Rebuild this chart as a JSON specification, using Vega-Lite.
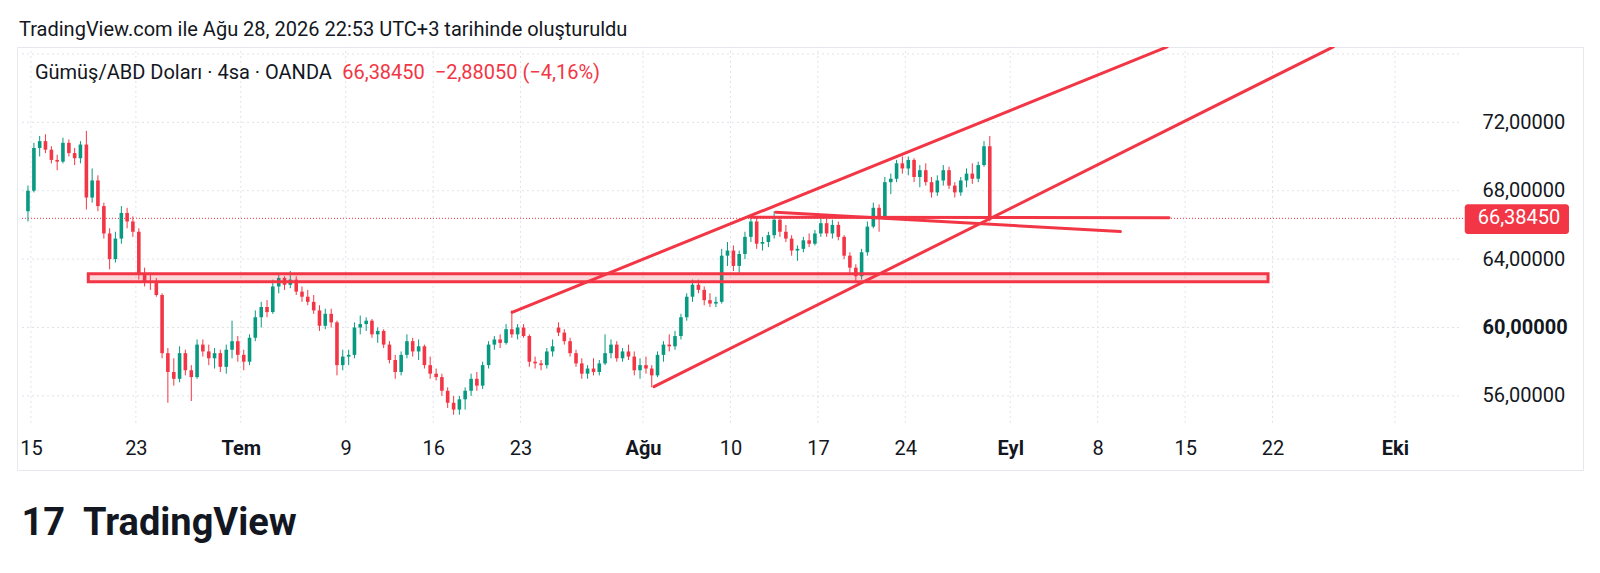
{
  "$schema": "https://vega.github.io/schema/vega-lite/v6.json",
  "autosize": {"type": "none"},
  "width": 1566,
  "height": 423,
  "padding": {"left": 17, "top": 47, "right": 17, "bottom": 103},
  "background": "#ffffff",
  "title": {
    "text": "TradingView.com ile Ağu 28, 2026 22:53 UTC+3 tarihinde oluşturuldu",
    "anchor": "start", "frame": "group", "offset": 7, "dx": 2,
    "font": "Roboto", "fontSize": 20, "fontWeight": "normal", "color": "#131722"
  },
  "config": {"view": {"stroke": "#e6e8ee", "strokeWidth": 1}, "font": "Roboto"},
  "datasets": {
    "hgrid": [{"p": 56}, {"p": 60}, {"p": 64}, {"p": 68}, {"p": 72}, {"p": 76}],
    "vgrid": [{"d": 0}, {"d": 6}, {"d": 12}, {"d": 18}, {"d": 23}, {"d": 28}, {"d": 35}, {"d": 40}, {"d": 45}, {"d": 50}, {"d": 56}, {"d": 61}, {"d": 66}, {"d": 71}, {"d": 78}],
    "last": [{"p": 66.3845, "label": "66,38450"}],
    "zone": [{"d1": 3.28, "d2": 70.74, "p1": 62.68, "p2": 63.15}],
    "lines": [
      {"id": "a", "d": 27.51, "p": 60.89}, {"id": "a", "d": 64.97, "p": 76.41},
      {"id": "b", "d": 35.63, "p": 56.54}, {"id": "b", "d": 74.47, "p": 76.41},
      {"id": "c", "d": 41.14, "p": 66.45}, {"id": "c", "d": 65.08, "p": 66.42},
      {"id": "d", "d": 42.59, "p": 66.74}, {"id": "d", "d": 62.3, "p": 65.61}
    ],
    "bars": [
      {"d": -0.17, "o": 66.8, "h": 68.3, "l": 66.2, "c": 68.0},
      {"d": 0.17, "o": 68.0, "h": 70.8, "l": 67.9, "c": 70.5},
      {"d": 0.5, "o": 70.5, "h": 71.2, "l": 70.0, "c": 70.9},
      {"d": 0.83, "o": 70.9, "h": 71.3, "l": 70.2, "c": 70.4},
      {"d": 1.17, "o": 70.4, "h": 70.6, "l": 69.6, "c": 69.8},
      {"d": 1.5, "o": 69.8, "h": 70.1, "l": 69.2, "c": 69.7},
      {"d": 1.83, "o": 69.7, "h": 71.1, "l": 69.6, "c": 70.8},
      {"d": 2.17, "o": 70.8, "h": 71.0, "l": 70.0, "c": 70.2},
      {"d": 2.5, "o": 70.2, "h": 70.5, "l": 69.5, "c": 69.9},
      {"d": 2.83, "o": 69.9, "h": 70.9, "l": 69.6, "c": 70.7},
      {"d": 3.17, "o": 70.7, "h": 71.5, "l": 66.9, "c": 67.6},
      {"d": 3.5, "o": 67.6, "h": 69.3, "l": 67.3, "c": 68.6},
      {"d": 3.83, "o": 68.6, "h": 68.9, "l": 66.8, "c": 67.1},
      {"d": 4.17, "o": 67.1, "h": 67.3, "l": 65.2, "c": 65.5},
      {"d": 4.5, "o": 65.5, "h": 65.8, "l": 63.4, "c": 64.0},
      {"d": 4.83, "o": 64.0, "h": 65.6, "l": 63.8, "c": 65.2},
      {"d": 5.17, "o": 65.2, "h": 67.1, "l": 64.9, "c": 66.7},
      {"d": 5.5, "o": 66.7, "h": 67.0, "l": 65.8, "c": 66.2},
      {"d": 5.83, "o": 66.2, "h": 66.5, "l": 65.3, "c": 65.6},
      {"d": 6.17, "o": 65.6, "h": 65.8, "l": 62.8, "c": 63.1},
      {"d": 6.5, "o": 63.1, "h": 63.5, "l": 62.4, "c": 62.7},
      {"d": 6.83, "o": 62.7, "h": 63.2, "l": 62.2, "c": 62.6},
      {"d": 7.17, "o": 62.6, "h": 62.9, "l": 61.8, "c": 61.9},
      {"d": 7.5, "o": 61.9, "h": 62.0, "l": 58.2, "c": 58.5},
      {"d": 7.83, "o": 58.5, "h": 58.8, "l": 55.6, "c": 57.4},
      {"d": 8.17, "o": 57.4, "h": 58.2, "l": 56.6, "c": 57.0},
      {"d": 8.5, "o": 57.0, "h": 58.9, "l": 56.8, "c": 58.5},
      {"d": 8.83, "o": 58.5, "h": 58.7, "l": 57.2, "c": 57.5},
      {"d": 9.17, "o": 57.5, "h": 57.8, "l": 55.7, "c": 57.1},
      {"d": 9.5, "o": 57.1, "h": 59.3, "l": 57.0, "c": 59.0},
      {"d": 9.83, "o": 59.0, "h": 59.3, "l": 58.3, "c": 58.6},
      {"d": 10.17, "o": 58.6, "h": 59.0, "l": 57.8, "c": 58.2},
      {"d": 10.5, "o": 58.2, "h": 58.8, "l": 57.6, "c": 58.5},
      {"d": 10.83, "o": 58.5, "h": 58.7, "l": 57.4, "c": 57.7},
      {"d": 11.17, "o": 57.7, "h": 59.0, "l": 57.3, "c": 58.7},
      {"d": 11.5, "o": 58.7, "h": 60.4, "l": 58.2, "c": 59.2},
      {"d": 11.83, "o": 59.2, "h": 59.5, "l": 58.0, "c": 58.4},
      {"d": 12.17, "o": 58.4, "h": 58.7, "l": 57.5, "c": 58.0},
      {"d": 12.5, "o": 58.0, "h": 59.6, "l": 57.8, "c": 59.4},
      {"d": 12.83, "o": 59.4, "h": 61.0, "l": 59.2, "c": 60.6},
      {"d": 13.17, "o": 60.6, "h": 61.5, "l": 60.0, "c": 61.2},
      {"d": 13.5, "o": 61.2, "h": 61.6, "l": 60.6, "c": 60.9},
      {"d": 13.83, "o": 60.9, "h": 62.8, "l": 60.8, "c": 62.4},
      {"d": 14.17, "o": 62.4, "h": 63.1, "l": 62.0, "c": 62.9},
      {"d": 14.5, "o": 62.9, "h": 63.0, "l": 62.2, "c": 62.5},
      {"d": 14.83, "o": 62.5, "h": 63.3, "l": 62.3, "c": 62.8},
      {"d": 15.17, "o": 62.8, "h": 63.0, "l": 61.9, "c": 62.1},
      {"d": 15.5, "o": 62.1, "h": 62.4, "l": 61.5, "c": 61.8},
      {"d": 15.83, "o": 61.8, "h": 62.2, "l": 61.3, "c": 61.5},
      {"d": 16.17, "o": 61.5, "h": 61.9, "l": 60.8, "c": 61.0},
      {"d": 16.5, "o": 61.0, "h": 61.3, "l": 59.8, "c": 60.1},
      {"d": 16.83, "o": 60.1, "h": 61.1, "l": 59.9, "c": 60.8},
      {"d": 17.17, "o": 60.8, "h": 61.1, "l": 60.0, "c": 60.3},
      {"d": 17.5, "o": 60.3, "h": 60.4, "l": 57.2, "c": 57.8},
      {"d": 17.83, "o": 57.8, "h": 58.7, "l": 57.5, "c": 58.3},
      {"d": 18.17, "o": 58.3, "h": 58.7, "l": 57.8, "c": 58.4},
      {"d": 18.5, "o": 58.4, "h": 60.3, "l": 58.2, "c": 60.0},
      {"d": 18.83, "o": 60.0, "h": 60.7, "l": 59.6, "c": 60.2},
      {"d": 19.17, "o": 60.2, "h": 60.6, "l": 59.8, "c": 60.4},
      {"d": 19.5, "o": 60.4, "h": 60.5, "l": 59.4, "c": 59.6},
      {"d": 19.83, "o": 59.6, "h": 60.0, "l": 59.1, "c": 59.8},
      {"d": 20.17, "o": 59.8, "h": 59.9, "l": 58.8, "c": 59.0},
      {"d": 20.5, "o": 59.0, "h": 59.2, "l": 57.9, "c": 58.1},
      {"d": 20.83, "o": 58.1, "h": 58.4, "l": 57.0, "c": 57.4},
      {"d": 21.17, "o": 57.4, "h": 58.6, "l": 57.2, "c": 58.4},
      {"d": 21.5, "o": 58.4, "h": 59.6, "l": 58.2, "c": 59.2},
      {"d": 21.83, "o": 59.2, "h": 59.4, "l": 58.3, "c": 58.6},
      {"d": 22.17, "o": 58.6, "h": 59.3, "l": 58.1, "c": 58.9},
      {"d": 22.5, "o": 58.9, "h": 59.0, "l": 57.6, "c": 57.8},
      {"d": 22.83, "o": 57.8, "h": 58.3, "l": 57.0, "c": 57.3},
      {"d": 23.17, "o": 57.3, "h": 57.6, "l": 56.9, "c": 57.1},
      {"d": 23.5, "o": 57.1, "h": 57.3, "l": 56.0, "c": 56.3},
      {"d": 23.83, "o": 56.3, "h": 56.5, "l": 55.3, "c": 55.6},
      {"d": 24.17, "o": 55.6, "h": 56.0, "l": 54.9, "c": 55.2},
      {"d": 24.5, "o": 55.2, "h": 56.0, "l": 54.9, "c": 55.8},
      {"d": 24.83, "o": 55.8, "h": 56.5, "l": 55.2, "c": 56.3},
      {"d": 25.17, "o": 56.3, "h": 57.3, "l": 56.0, "c": 57.0},
      {"d": 25.5, "o": 57.0, "h": 57.4, "l": 56.3, "c": 56.6},
      {"d": 25.83, "o": 56.6, "h": 58.0, "l": 56.4, "c": 57.8},
      {"d": 26.17, "o": 57.8, "h": 59.2, "l": 57.6, "c": 59.0},
      {"d": 26.5, "o": 59.0, "h": 59.5, "l": 58.7, "c": 59.3},
      {"d": 26.83, "o": 59.3, "h": 59.6, "l": 58.8, "c": 59.1},
      {"d": 27.17, "o": 59.1, "h": 60.2, "l": 59.0, "c": 59.9},
      {"d": 27.5, "o": 59.9, "h": 61.0, "l": 59.4, "c": 59.6},
      {"d": 27.83, "o": 59.6, "h": 60.2, "l": 59.3, "c": 60.0},
      {"d": 28.17, "o": 60.0, "h": 60.2, "l": 59.4, "c": 59.5},
      {"d": 28.5, "o": 59.5, "h": 59.6, "l": 57.7, "c": 58.0},
      {"d": 28.83, "o": 58.0, "h": 58.3, "l": 57.6, "c": 57.9},
      {"d": 29.17, "o": 57.9, "h": 58.1, "l": 57.5, "c": 57.8},
      {"d": 29.5, "o": 57.8, "h": 58.8, "l": 57.6, "c": 58.6},
      {"d": 29.83, "o": 58.6, "h": 59.3, "l": 58.3, "c": 58.9},
      {"d": 30.17, "o": 60.0, "h": 60.3, "l": 59.5, "c": 59.7},
      {"d": 30.5, "o": 59.7, "h": 59.9, "l": 59.0, "c": 59.2},
      {"d": 30.83, "o": 59.2, "h": 59.4, "l": 58.3, "c": 58.5},
      {"d": 31.17, "o": 58.5, "h": 58.7, "l": 57.7, "c": 57.9},
      {"d": 31.5, "o": 57.9, "h": 58.2, "l": 57.0, "c": 57.3},
      {"d": 31.83, "o": 57.3, "h": 57.8, "l": 57.0, "c": 57.6},
      {"d": 32.17, "o": 57.6, "h": 58.2, "l": 57.2, "c": 57.4},
      {"d": 32.5, "o": 57.4, "h": 58.1, "l": 57.2, "c": 57.9},
      {"d": 32.83, "o": 57.9, "h": 59.6, "l": 57.8, "c": 58.5},
      {"d": 33.17, "o": 58.5, "h": 59.3, "l": 58.2, "c": 59.0},
      {"d": 33.5, "o": 59.0, "h": 59.2, "l": 58.0, "c": 58.2},
      {"d": 33.83, "o": 58.2, "h": 58.8, "l": 58.0, "c": 58.6},
      {"d": 34.17, "o": 58.6, "h": 59.0, "l": 58.1, "c": 58.3},
      {"d": 34.5, "o": 58.3, "h": 58.6, "l": 57.2, "c": 57.5},
      {"d": 34.83, "o": 57.5, "h": 58.2, "l": 57.0, "c": 57.8},
      {"d": 35.17, "o": 57.8, "h": 58.3, "l": 57.3, "c": 57.6},
      {"d": 35.5, "o": 57.6, "h": 57.8, "l": 56.5, "c": 57.2},
      {"d": 35.83, "o": 57.2, "h": 58.6, "l": 57.1, "c": 58.4},
      {"d": 36.17, "o": 58.4, "h": 59.2, "l": 58.0, "c": 59.0},
      {"d": 36.5, "o": 59.0, "h": 59.6, "l": 58.6, "c": 58.9},
      {"d": 36.83, "o": 58.9, "h": 59.8, "l": 58.7, "c": 59.5},
      {"d": 37.17, "o": 59.5, "h": 60.8, "l": 59.3, "c": 60.6},
      {"d": 37.5, "o": 60.6, "h": 62.0, "l": 60.4, "c": 61.8},
      {"d": 37.83, "o": 61.8, "h": 62.8, "l": 61.5, "c": 62.5},
      {"d": 38.17, "o": 62.5, "h": 62.8, "l": 62.0, "c": 62.2},
      {"d": 38.5, "o": 62.2, "h": 62.4, "l": 61.3, "c": 61.6},
      {"d": 38.83, "o": 61.6, "h": 62.0, "l": 61.2, "c": 61.4},
      {"d": 39.17, "o": 61.4, "h": 61.8, "l": 61.2, "c": 61.5},
      {"d": 39.5, "o": 61.5, "h": 64.6, "l": 61.4, "c": 64.2},
      {"d": 39.83, "o": 64.2, "h": 65.0, "l": 63.6, "c": 64.5},
      {"d": 40.17, "o": 64.5, "h": 64.8, "l": 63.3, "c": 63.6},
      {"d": 40.5, "o": 63.6, "h": 64.5, "l": 63.2, "c": 64.3},
      {"d": 40.83, "o": 64.3, "h": 65.6, "l": 64.0, "c": 65.3},
      {"d": 41.17, "o": 65.3, "h": 66.5, "l": 65.0, "c": 66.2},
      {"d": 41.5, "o": 66.2, "h": 66.4, "l": 64.6, "c": 64.9},
      {"d": 41.83, "o": 64.9, "h": 65.3, "l": 64.5, "c": 65.0},
      {"d": 42.17, "o": 65.0, "h": 65.6, "l": 64.7, "c": 65.4},
      {"d": 42.5, "o": 65.4, "h": 66.8, "l": 65.2, "c": 66.3},
      {"d": 42.83, "o": 66.3, "h": 66.5, "l": 65.3, "c": 65.6},
      {"d": 43.17, "o": 65.6, "h": 66.0, "l": 65.0, "c": 65.2},
      {"d": 43.5, "o": 65.2, "h": 65.4, "l": 64.2, "c": 64.5},
      {"d": 43.83, "o": 64.5, "h": 64.8, "l": 63.9, "c": 64.6},
      {"d": 44.17, "o": 64.6, "h": 65.3, "l": 64.4, "c": 65.1},
      {"d": 44.5, "o": 65.1, "h": 65.5, "l": 64.7, "c": 64.9},
      {"d": 44.83, "o": 64.9, "h": 65.7, "l": 64.8, "c": 65.5},
      {"d": 45.17, "o": 65.5, "h": 66.4, "l": 65.3, "c": 66.1},
      {"d": 45.5, "o": 66.1, "h": 66.4, "l": 65.3, "c": 65.5},
      {"d": 45.83, "o": 65.5, "h": 66.3, "l": 65.2, "c": 66.0},
      {"d": 46.17, "o": 66.0, "h": 66.2, "l": 65.1, "c": 65.3},
      {"d": 46.5, "o": 65.3, "h": 65.4, "l": 64.0, "c": 64.2},
      {"d": 46.83, "o": 64.2, "h": 64.4, "l": 63.2, "c": 63.5},
      {"d": 47.17, "o": 63.5, "h": 63.7, "l": 62.6, "c": 63.0},
      {"d": 47.5, "o": 63.0, "h": 64.6, "l": 62.8, "c": 64.4},
      {"d": 47.83, "o": 64.4, "h": 66.2, "l": 64.2, "c": 65.9},
      {"d": 48.17, "o": 65.9, "h": 67.3, "l": 65.8, "c": 67.0},
      {"d": 48.5, "o": 67.0, "h": 67.2, "l": 65.6, "c": 66.4},
      {"d": 48.83, "o": 66.4, "h": 68.8, "l": 66.3, "c": 68.5},
      {"d": 49.17, "o": 68.5, "h": 69.0, "l": 67.8, "c": 68.7},
      {"d": 49.5, "o": 68.7, "h": 69.8, "l": 68.5, "c": 69.6},
      {"d": 49.83, "o": 69.6, "h": 70.0, "l": 69.0, "c": 69.3},
      {"d": 50.17, "o": 69.3, "h": 70.0, "l": 68.9, "c": 69.8},
      {"d": 50.5, "o": 69.8, "h": 69.9, "l": 68.5, "c": 68.8},
      {"d": 50.83, "o": 68.8, "h": 69.5, "l": 68.2, "c": 69.2},
      {"d": 51.17, "o": 69.2, "h": 69.6, "l": 68.3, "c": 68.5},
      {"d": 51.5, "o": 68.5, "h": 68.8, "l": 67.6, "c": 67.9},
      {"d": 51.83, "o": 67.9, "h": 68.9, "l": 67.7, "c": 68.6},
      {"d": 52.17, "o": 68.6, "h": 69.5, "l": 68.3, "c": 69.2},
      {"d": 52.5, "o": 69.2, "h": 69.4, "l": 68.1, "c": 68.3},
      {"d": 52.83, "o": 68.3, "h": 68.5, "l": 67.6, "c": 67.9},
      {"d": 53.17, "o": 67.9, "h": 68.8, "l": 67.7, "c": 68.6},
      {"d": 53.5, "o": 68.6, "h": 69.3, "l": 68.2, "c": 69.0},
      {"d": 53.83, "o": 69.0, "h": 69.6, "l": 68.4, "c": 68.7},
      {"d": 54.17, "o": 68.7, "h": 69.7, "l": 68.5, "c": 69.5},
      {"d": 54.5, "o": 69.5, "h": 70.9, "l": 69.4, "c": 70.6},
      {"d": 54.83, "o": 70.6, "h": 71.2, "l": 66.2, "c": 66.3845}
    ]
  },
  "layer": [
    {
      "data": {"name": "hgrid"},
      "mark": {"type": "rule", "color": "#dfe2e8", "strokeWidth": 1, "strokeDash": [2, 3]},
      "encoding": {
        "y": {
          "field": "p", "type": "quantitative",
          "scale": {"domain": [51.667, 76.404], "nice": false, "zero": false},
          "axis": {
            "orient": "right", "values": [56, 60, 64, 68, 72], "offset": -101,
            "ticks": false, "domain": false, "grid": false, "labelPadding": 0,
            "labelAlign": "left", "labelBaseline": "middle", "labelFont": "Roboto",
            "labelFontSize": 20, "labelColor": "#131722", "labelFlush": false,
            "labelExpr": "replace(format(datum.value, '.5f'), '.', ',')",
            "labelFontWeight": {"condition": {"test": "datum.value == 60", "value": "bold"}, "value": "normal"},
            "title": null
          }
        },
        "x": {"datum": -0.511, "type": "quantitative", "scale": {"domain": [-0.511, 88.466], "nice": false, "zero": false}},
        "x2": {"datum": 81.76}
      }
    },
    {
      "data": {"name": "vgrid"},
      "mark": {"type": "rule", "color": "#dfe2e8", "strokeWidth": 1, "strokeDash": [2, 3]},
      "encoding": {
        "x": {
          "field": "d", "type": "quantitative",
          "scale": {"domain": [-0.511, 88.466], "nice": false, "zero": false},
          "axis": {
            "orient": "bottom", "values": [0, 6, 12, 18, 23, 28, 35, 40, 45, 50, 56, 61, 66, 71, 78],
            "offset": -22, "ticks": false, "domain": false, "grid": false, "labelPadding": 0,
            "labelBaseline": "middle", "labelFont": "Roboto", "labelFontSize": 20,
            "labelColor": "#131722", "labelFlush": false, "labelOverlap": false,
            "labelExpr": "['15','23','Tem','9','16','23','Ağu','10','17','24','Eyl','8','15','22','Eki'][indexof([0,6,12,18,23,28,35,40,45,50,56,61,66,71,78], datum.value)]",
            "labelFontWeight": {"condition": {"test": "datum.value == 12 || datum.value == 35 || datum.value == 56 || datum.value == 78", "value": "bold"}, "value": "normal"},
            "title": "17\u00a0 TradingView", "titleFont": "Roboto", "titleFontSize": 38,
            "titleFontWeight": "bold", "titleColor": "#131722", "titleAnchor": "start",
            "titleAlign": "left", "titleBaseline": "middle", "titleX": 4, "titleY": 75
          }
        },
        "y": {"datum": 54.42, "type": "quantitative", "scale": {"domain": [51.667, 76.404], "nice": false, "zero": false}},
        "y2": {"datum": 76.404}
      }
    },
    {
      "data": {"name": "last"},
      "mark": {"type": "rule", "color": "#f23645", "strokeWidth": 1, "strokeDash": [1, 2]},
      "encoding": {
        "y": {"field": "p", "type": "quantitative", "scale": {"domain": [51.667, 76.404], "nice": false, "zero": false}},
        "x": {"datum": -0.511, "type": "quantitative", "scale": {"domain": [-0.511, 88.466], "nice": false, "zero": false}},
        "x2": {"datum": 82.0}
      }
    },
    {
      "data": {"name": "bars"},
      "mark": {"type": "rule", "strokeWidth": 1},
      "encoding": {
        "x": {"field": "d", "type": "quantitative", "scale": {"domain": [-0.511, 88.466], "nice": false, "zero": false}},
        "y": {"field": "l", "type": "quantitative", "scale": {"domain": [51.667, 76.404], "nice": false, "zero": false}},
        "y2": {"field": "h"},
        "color": {"condition": {"test": "datum.c >= datum.o", "value": "#089981"}, "value": "#f23645"}
      }
    },
    {
      "data": {"name": "bars"},
      "mark": {"type": "bar", "width": 3.6},
      "encoding": {
        "x": {"field": "d", "type": "quantitative", "scale": {"domain": [-0.511, 88.466], "nice": false, "zero": false}},
        "y": {"field": "o", "type": "quantitative", "scale": {"domain": [51.667, 76.404], "nice": false, "zero": false}},
        "y2": {"field": "c"},
        "color": {"condition": {"test": "datum.c >= datum.o", "value": "#089981"}, "value": "#f23645"}
      }
    },
    {
      "data": {"name": "zone"},
      "mark": {"type": "rect", "fill": "#f23645", "fillOpacity": 0.2, "stroke": "#f23645", "strokeWidth": 3},
      "encoding": {
        "x": {"field": "d1", "type": "quantitative", "scale": {"domain": [-0.511, 88.466], "nice": false, "zero": false}},
        "x2": {"field": "d2"},
        "y": {"field": "p1", "type": "quantitative", "scale": {"domain": [51.667, 76.404], "nice": false, "zero": false}},
        "y2": {"field": "p2"}
      }
    },
    {
      "data": {"name": "lines"},
      "mark": {"type": "line", "color": "#f23645", "strokeWidth": 3, "clip": true, "strokeCap": "round"},
      "encoding": {
        "x": {"field": "d", "type": "quantitative", "scale": {"domain": [-0.511, 88.466], "nice": false, "zero": false}},
        "y": {"field": "p", "type": "quantitative", "scale": {"domain": [51.667, 76.404], "nice": false, "zero": false}},
        "detail": {"field": "id", "type": "nominal"}
      }
    },
    {
      "data": {"name": "last"},
      "mark": {"type": "rect", "color": "#f23645", "cornerRadius": 3},
      "encoding": {
        "x": {"datum": 81.99, "type": "quantitative", "scale": {"domain": [-0.511, 88.466], "nice": false, "zero": false}},
        "x2": {"datum": 87.95},
        "y": {"datum": 65.47, "type": "quantitative", "scale": {"domain": [51.667, 76.404], "nice": false, "zero": false}},
        "y2": {"datum": 67.205}
      }
    },
    {
      "data": {"name": "last"},
      "mark": {"type": "text", "color": "#ffffff", "font": "Roboto", "fontSize": 20, "align": "left", "baseline": "middle"},
      "encoding": {
        "x": {"datum": 82.73, "type": "quantitative", "scale": {"domain": [-0.511, 88.466], "nice": false, "zero": false}},
        "y": {"field": "p", "type": "quantitative", "scale": {"domain": [51.667, 76.404], "nice": false, "zero": false}},
        "text": {"field": "label"}
      }
    },
    {
      "data": {"values": [{}]},
      "mark": {"type": "text", "color": "#131722", "font": "Roboto", "fontSize": 20, "align": "left", "baseline": "middle"},
      "encoding": {
        "x": {"datum": 0.227, "type": "quantitative", "scale": {"domain": [-0.511, 88.466], "nice": false, "zero": false}},
        "y": {"datum": 74.91, "type": "quantitative", "scale": {"domain": [51.667, 76.404], "nice": false, "zero": false}},
        "text": {"value": "Gümüş/ABD Doları · 4sa · OANDA"}
      }
    },
    {
      "data": {"values": [{}]},
      "mark": {"type": "text", "color": "#f23645", "font": "Roboto", "fontSize": 20, "align": "left", "baseline": "middle"},
      "encoding": {
        "x": {"datum": 17.8, "type": "quantitative", "scale": {"domain": [-0.511, 88.466], "nice": false, "zero": false}},
        "y": {"datum": 74.91, "type": "quantitative", "scale": {"domain": [51.667, 76.404], "nice": false, "zero": false}},
        "text": {"value": "66,38450\u00a0 −2,88050 (−4,16%)"}
      }
    }
  ]
}
